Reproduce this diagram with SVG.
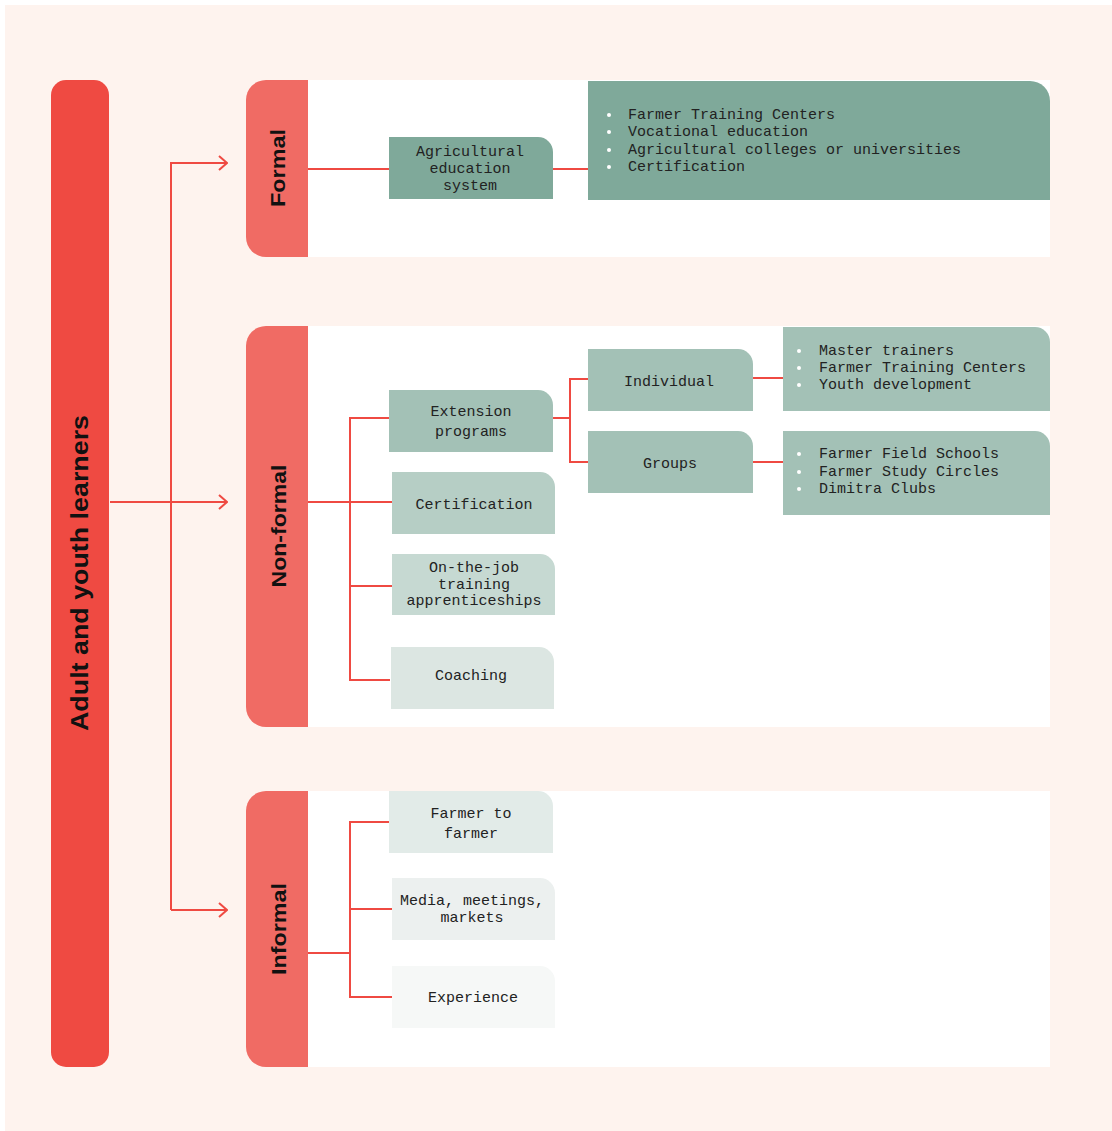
<svg xmlns="http://www.w3.org/2000/svg" width="1112" height="1131" viewBox="0 0 1112 1131">
<defs>
<marker id="arr" viewBox="0 0 10 16" refX="9" refY="8" markerWidth="10" markerHeight="16" markerUnits="userSpaceOnUse" orient="auto">
<path d="M1,1 L9,8 L1,15" fill="none" stroke="#EF4A42" stroke-width="2"/>
</marker>
</defs>
<style>
.ln{fill:none;stroke:#EF4A42;stroke-width:2}
.t{font-family:"Liberation Mono","DejaVu Sans Mono",monospace;font-size:15px;fill:#222;text-anchor:middle;dominant-baseline:central}
.lt{font-family:"Liberation Mono","DejaVu Sans Mono",monospace;font-size:15px;fill:#222;dominant-baseline:central}
.v{font-family:"Liberation Sans",Arial,sans-serif;font-weight:bold;fill:#111;text-anchor:middle;dominant-baseline:central}
.dot{fill:#ffffff}
.side{fill:#F06B64}
</style>
<rect x="5" y="5" width="1107" height="1126" fill="#FEF3EE"/>

<g id="root">
<rect x="51" y="80" width="58" height="987" rx="15" fill="#EF4A42"/>
<text class="v" font-size="23" transform="translate(80,573) rotate(-90)" textLength="316" lengthAdjust="spacingAndGlyphs">Adult and youth learners</text>
</g>

<g id="formal">
<rect x="308" y="80" width="742" height="177" fill="#ffffff"/>
<path class="side" d="M308,80 V257 H266 A20,20 0 0 1 246,237 V100 A20,20 0 0 1 266,80 Z"/>
<text class="v" font-size="21" transform="translate(277,168) rotate(-90)" textLength="78" lengthAdjust="spacingAndGlyphs">Formal</text>
</g>

<g id="nonformal">
<rect x="308" y="326" width="742" height="401" fill="#ffffff"/>
<path class="side" d="M308,326 V727 H266 A20,20 0 0 1 246,707 V346 A20,20 0 0 1 266,326 Z"/>
<text class="v" font-size="21" transform="translate(278,526) rotate(-90)" textLength="123" lengthAdjust="spacingAndGlyphs">Non-formal</text>
</g>

<g id="informal">
<rect x="308" y="791" width="742" height="276" fill="#ffffff"/>
<path class="side" d="M308,791 V1067 H266 A20,20 0 0 1 246,1047 V811 A20,20 0 0 1 266,791 Z"/>
<text class="v" font-size="21" transform="translate(278,929) rotate(-90)" textLength="92" lengthAdjust="spacingAndGlyphs">Informal</text>
</g>

<g id="connectors">
<path class="ln" d="M171,910 V163 H227" marker-end="url(#arr)"/>
<path class="ln" d="M110,502 H227" marker-end="url(#arr)"/>
<path class="ln" d="M171,910 H227" marker-end="url(#arr)"/>
<path class="ln" d="M308,169 H389"/>
<path class="ln" d="M553,169 H588"/>
<path class="ln" d="M308,502 H350"/>
<path class="ln" d="M389,418 H350 V680 H390"/>
<path class="ln" d="M350,502 H392"/>
<path class="ln" d="M350,586 H392"/>
<path class="ln" d="M553,418 H570"/>
<path class="ln" d="M588,379 H570 V462 H588"/>
<path class="ln" d="M753,378 H783"/>
<path class="ln" d="M753,462 H783"/>
<path class="ln" d="M308,953 H350"/>
<path class="ln" d="M389,822 H350 V997 H392"/>
<path class="ln" d="M350,909 H392"/>
</g>

<g id="agri">
<path d="M389,137 H538 A15,15 0 0 1 553,152 V199 H389 Z" fill="#7FA99A"/>
<text class="t" x="470" y="152">Agricultural</text>
<text class="t" x="470" y="169">education</text>
<text class="t" x="470" y="186">system</text>
</g>

<g id="formal-list">
<path d="M588,81 H1030 A20,20 0 0 1 1050,101 V200 H588 Z" fill="#7FA99A"/>
<circle class="dot" cx="609" cy="115" r="2"/>
<circle class="dot" cx="609" cy="132" r="2"/>
<circle class="dot" cx="609" cy="150" r="2"/>
<circle class="dot" cx="609" cy="167" r="2"/>
<text class="lt" x="628" y="115">Farmer Training Centers</text>
<text class="lt" x="628" y="132">Vocational education</text>
<text class="lt" x="628" y="150">Agricultural colleges or universities</text>
<text class="lt" x="628" y="167">Certification</text>
</g>

<g id="extension">
<path d="M389,390 H538 A15,15 0 0 1 553,405 V452 H389 Z" fill="#A3C1B6"/>
<text class="t" x="471" y="412">Extension</text>
<text class="t" x="471" y="432">programs</text>
</g>

<g id="certification">
<path d="M392,472 H540 A15,15 0 0 1 555,487 V534 H392 Z" fill="#B6CEC5"/>
<text class="t" x="474" y="505">Certification</text>
</g>

<g id="onthejob">
<path d="M392,554 H540 A15,15 0 0 1 555,569 V615 H392 Z" fill="#C6D9D2"/>
<text class="t" x="474" y="568">On-the-job</text>
<text class="t" x="474" y="585">training</text>
<text class="t" x="474" y="601">apprenticeships</text>
</g>

<g id="coaching">
<path d="M391,647 H539 A15,15 0 0 1 554,662 V709 H391 Z" fill="#DCE6E2"/>
<text class="t" x="471" y="676">Coaching</text>
</g>

<g id="individual">
<path d="M588,349 H738 A15,15 0 0 1 753,364 V411 H588 Z" fill="#A3C1B6"/>
<text class="t" x="669" y="382">Individual</text>
</g>

<g id="groups">
<path d="M588,431 H738 A15,15 0 0 1 753,446 V493 H588 Z" fill="#A3C1B6"/>
<text class="t" x="670" y="464">Groups</text>
</g>

<g id="individual-list">
<path d="M783,327 H1035 A15,15 0 0 1 1050,342 V411 H783 Z" fill="#A3C1B6"/>
<circle class="dot" cx="799" cy="351" r="2"/>
<circle class="dot" cx="799" cy="368" r="2"/>
<circle class="dot" cx="799" cy="385" r="2"/>
<text class="lt" x="819" y="351">Master trainers</text>
<text class="lt" x="819" y="368">Farmer Training Centers</text>
<text class="lt" x="819" y="385">Youth development</text>
</g>

<g id="groups-list">
<path d="M783,431 H1035 A15,15 0 0 1 1050,446 V515 H783 Z" fill="#A3C1B6"/>
<circle class="dot" cx="799" cy="454" r="2"/>
<circle class="dot" cx="799" cy="472" r="2"/>
<circle class="dot" cx="799" cy="489" r="2"/>
<text class="lt" x="819" y="454">Farmer Field Schools</text>
<text class="lt" x="819" y="472">Farmer Study Circles</text>
<text class="lt" x="819" y="489">Dimitra Clubs</text>
</g>

<g id="farmer">
<path d="M389,791 H538 A15,15 0 0 1 553,806 V853 H389 Z" fill="#E2EBE8"/>
<text class="t" x="471" y="814">Farmer to</text>
<text class="t" x="471" y="834">farmer</text>
</g>

<g id="media">
<path d="M392,878 H540 A15,15 0 0 1 555,893 V940 H392 Z" fill="#ECF0EF"/>
<text class="t" x="472" y="901">Media, meetings,</text>
<text class="t" x="472" y="918">markets</text>
</g>

<g id="experience">
<path d="M392,966 H540 A15,15 0 0 1 555,981 V1028 H392 Z" fill="#F6F8F7"/>
<text class="t" x="473" y="998">Experience</text>
</g>
</svg>
